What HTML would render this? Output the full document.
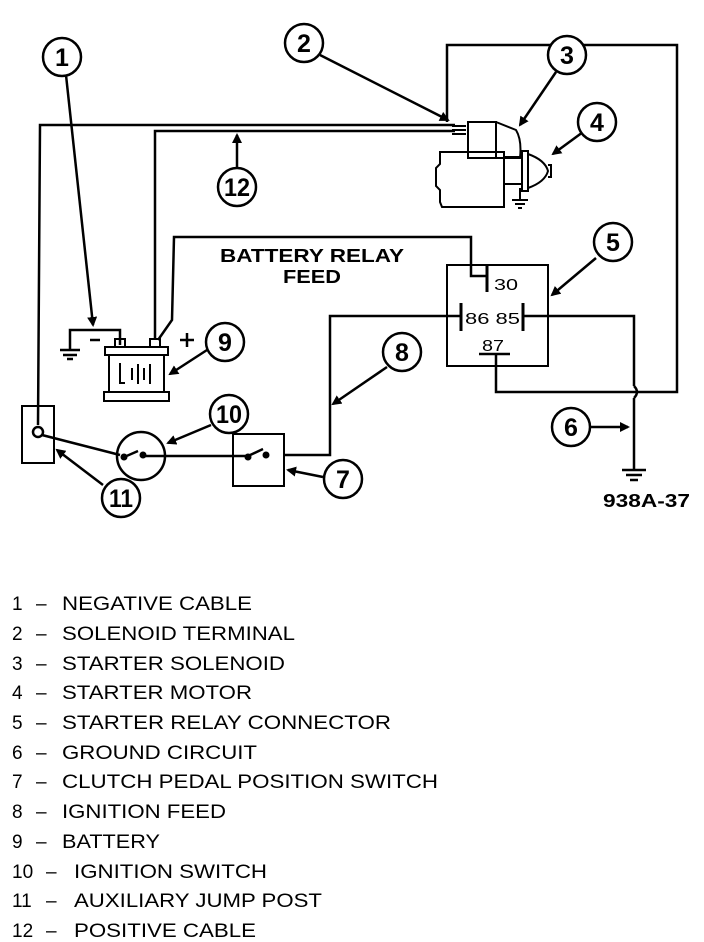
<!DOCTYPE html>
<html><head><meta charset="utf-8"><style>
html,body{margin:0;padding:0;background:#fff;}
svg{display:block;}
text{font-family:"Liberation Sans",Arial,sans-serif;fill:#000;}
.c{fill:#fff;stroke:#000;stroke-width:2.5;}
.n{font-size:25px;font-weight:bold;text-anchor:middle;}
.l{font-size:19px;}
</style></head><body>
<svg width="704" height="942" viewBox="0 0 704 942" xmlns="http://www.w3.org/2000/svg">
<defs><marker id="a" markerWidth="10" markerHeight="10" refX="8" refY="5" orient="auto" markerUnits="userSpaceOnUse"><path d="M0,0 L10,5 L0,10 z" fill="#000"/></marker></defs>
<g fill="none" stroke="#000" stroke-width="2.5">
<polyline points="447,122 447,45 677,45 677,392 496,392 496,355"/>
<polyline points="38,425 40,125 455,125"/>
<polyline points="155,338 155,131 455,131"/>
<polyline points="158,340 172,320 174,237 471,237 471,276 487,276"/>
<line x1="487" y1="266" x2="487" y2="292" stroke-width="3"/>
<rect x="447" y="265" width="101" height="101" stroke-width="2"/>
<line x1="461" y1="303" x2="461" y2="331" stroke-width="3"/>
<line x1="523" y1="303" x2="523" y2="331" stroke-width="3"/>
<polyline points="461,316 330,316 330,455 284,455"/>
<polyline points="523,316 634,316 634,386"/>
<path d="M634,386 q6,6 0,12"/>
<polyline points="634,398 634,470"/>
<line x1="479" y1="354" x2="510" y2="354"/>
<line x1="622" y1="470" x2="646" y2="470"/><line x1="626" y1="475" x2="642" y2="475"/><line x1="630" y1="480" x2="638" y2="480"/>
<polyline points="120,345 120,330 70,330 70,350"/>
<line x1="60" y1="350" x2="80" y2="350"/><line x1="63" y1="355" x2="77" y2="355"/><line x1="67" y1="359" x2="73" y2="359"/>
<line x1="90" y1="340" x2="100" y2="340"/>
<line x1="180" y1="340" x2="194" y2="340"/><line x1="187" y1="333" x2="187" y2="347"/>
<rect x="115" y="339" width="10" height="8" stroke-width="2"/>
<rect x="150" y="339" width="10" height="8" stroke-width="2"/>
<rect x="105" y="347" width="63" height="8" stroke-width="2"/>
<rect x="109" y="355" width="55" height="37" stroke-width="2"/>
<rect x="104" y="392" width="65" height="9" stroke-width="2"/>
<path d="M120,363 v20 h5 M132,368 v12 M138,364 v20 M144,368 v12 M150,364 v20" stroke-width="2"/>
<rect x="22" y="406" width="32" height="57" stroke-width="2"/>
<circle cx="38" cy="432" r="5"/>
<line x1="42" y1="435" x2="120" y2="455"/>
<circle cx="141" cy="456" r="24"/>
<line x1="145" y1="456" x2="248" y2="456"/>
<rect x="233" y="434" width="51" height="52" stroke-width="2"/>
<line x1="248" y1="456" x2="263" y2="449"/>
<line x1="122" y1="458" x2="138" y2="451"/>
<rect x="468" y="122" width="28" height="36" stroke-width="2"/>
<path d="M496,122 L516,130 Q522,140 520,158 L496,158" stroke-width="2"/>
<path d="M440,152 H504 V207 H442 L440,202 V190 L436,186 V168 L440,164 Z" stroke-width="2"/>
<rect x="504" y="157" width="18" height="27" stroke-width="2"/>
<rect x="522" y="151" width="6" height="40" stroke-width="2"/>
<path d="M528,154 Q545,160 548,171 Q545,182 528,188" stroke-width="2"/>
<path d="M548,165 h3 v12 h-3" stroke-width="2"/>
<path d="M452,126 h14 M452,130 h14 M452,134 h14" stroke-width="2"/>
<line x1="520" y1="188" x2="520" y2="200" stroke-width="2"/>
<line x1="512" y1="200" x2="528" y2="200" stroke-width="2"/><line x1="515" y1="204" x2="525" y2="204" stroke-width="2"/><line x1="518" y1="208" x2="522" y2="208" stroke-width="2"/>
<g marker-end="url(#a)">
<line x1="66" y1="75" x2="93" y2="325"/>
<line x1="320" y1="55" x2="448" y2="120"/>
<line x1="556" y1="72" x2="520" y2="125"/>
<line x1="583" y1="132" x2="553" y2="154"/>
<line x1="596" y1="258" x2="552" y2="295"/>
<line x1="590" y1="427" x2="628" y2="427"/>
<line x1="323" y1="477" x2="288" y2="470"/>
<line x1="387" y1="367" x2="333" y2="404"/>
<line x1="207" y1="350" x2="170" y2="374"/>
<line x1="211" y1="425" x2="168" y2="443"/>
<line x1="103" y1="485" x2="57" y2="450"/>
<line x1="237" y1="167" x2="237" y2="135"/>
</g>
</g>
<g class="c">
<circle cx="62" cy="57" r="19"/><circle cx="304" cy="43" r="19"/><circle cx="567" cy="55" r="19"/><circle cx="597" cy="122" r="19"/>
<circle cx="613" cy="242" r="19"/><circle cx="571" cy="427" r="19"/><circle cx="343" cy="479" r="19"/><circle cx="402" cy="352" r="19"/>
<circle cx="225" cy="342" r="19"/><circle cx="229" cy="414" r="19"/><circle cx="121" cy="498" r="19"/><circle cx="237" cy="187" r="19"/>
</g>
<g class="n">
<text x="62" y="66">1</text><text x="304" y="52">2</text><text x="567" y="64">3</text><text x="597" y="131">4</text>
<text x="613" y="251">5</text><text x="571" y="436">6</text><text x="343" y="488">7</text><text x="402" y="361">8</text>
<text x="225" y="351">9</text><text x="229" y="423" textLength="26" lengthAdjust="spacingAndGlyphs">10</text><text x="121" y="507" textLength="24" lengthAdjust="spacingAndGlyphs">11</text><text x="237" y="196" textLength="26" lengthAdjust="spacingAndGlyphs">12</text>
</g>
<g font-weight="bold" font-size="18">
<text x="220" y="262" textLength="184" lengthAdjust="spacingAndGlyphs">BATTERY RELAY</text>
<text x="283" y="283" textLength="58" lengthAdjust="spacingAndGlyphs">FEED</text>
<text x="603" y="507" textLength="87" lengthAdjust="spacingAndGlyphs">938A-37</text>
</g>
<g font-size="16">
<text x="494" y="290" textLength="24" lengthAdjust="spacingAndGlyphs">30</text>
<text x="465" y="324" textLength="55" lengthAdjust="spacingAndGlyphs">86 85</text>
<text x="482" y="351" textLength="22" lengthAdjust="spacingAndGlyphs">87</text>
</g>
<g class="l">
<text x="12" y="610">1</text><text x="12" y="640">2</text><text x="12" y="670">3</text><text x="12" y="699">4</text>
<text x="12" y="729">5</text><text x="12" y="759">6</text><text x="12" y="788">7</text><text x="12" y="818">8</text>
<text x="12" y="848">9</text><text x="12" y="878">10</text><text x="12" y="907">11</text><text x="12" y="937">12</text>
<text x="36" y="610">–</text><text x="36" y="640">–</text><text x="36" y="670">–</text><text x="36" y="699">–</text>
<text x="36" y="729">–</text><text x="36" y="759">–</text><text x="36" y="788">–</text><text x="36" y="818">–</text>
<text x="36" y="848">–</text><text x="46" y="878">–</text><text x="46" y="907">–</text><text x="46" y="937">–</text>
<text x="62" y="610" textLength="190" lengthAdjust="spacingAndGlyphs">NEGATIVE CABLE</text>
<text x="62" y="640" textLength="233" lengthAdjust="spacingAndGlyphs">SOLENOID TERMINAL</text>
<text x="62" y="670" textLength="223" lengthAdjust="spacingAndGlyphs">STARTER SOLENOID</text>
<text x="62" y="699" textLength="190" lengthAdjust="spacingAndGlyphs">STARTER MOTOR</text>
<text x="62" y="729" textLength="329" lengthAdjust="spacingAndGlyphs">STARTER RELAY CONNECTOR</text>
<text x="62" y="759" textLength="195" lengthAdjust="spacingAndGlyphs">GROUND CIRCUIT</text>
<text x="62" y="788" textLength="376" lengthAdjust="spacingAndGlyphs">CLUTCH PEDAL POSITION SWITCH</text>
<text x="62" y="818" textLength="164" lengthAdjust="spacingAndGlyphs">IGNITION FEED</text>
<text x="62" y="848" textLength="98" lengthAdjust="spacingAndGlyphs">BATTERY</text>
<text x="74" y="878" textLength="193" lengthAdjust="spacingAndGlyphs">IGNITION SWITCH</text>
<text x="74" y="907" textLength="248" lengthAdjust="spacingAndGlyphs">AUXILIARY JUMP POST</text>
<text x="74" y="937" textLength="182" lengthAdjust="spacingAndGlyphs">POSITIVE CABLE</text>
</g>
<g fill="#000"><circle cx="124" cy="457" r="3.5"/><circle cx="143" cy="455" r="3.5"/><circle cx="248" cy="457" r="3.5"/><circle cx="266" cy="455" r="3.5"/></g>
</svg>
</body></html>
